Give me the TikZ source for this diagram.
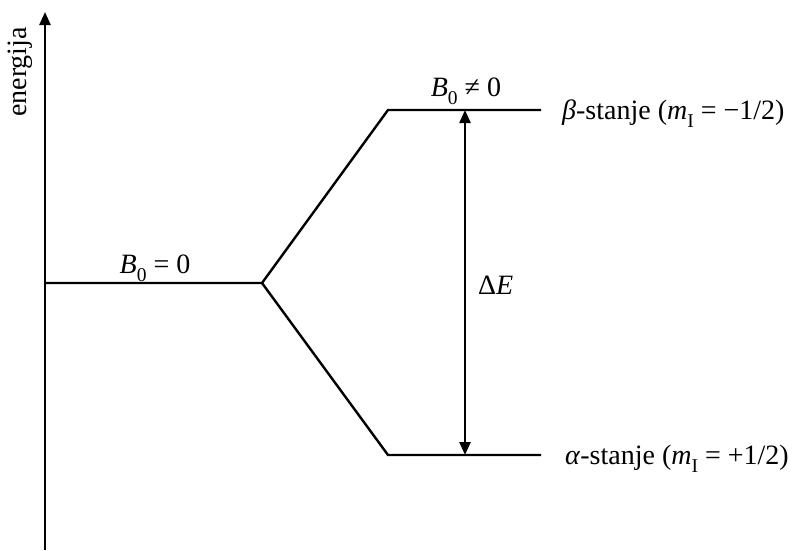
\documentclass[tikz,border=0pt]{standalone}
\usepackage{fontspec}
\setmainfont{Liberation Serif}
\usetikzlibrary{arrows.meta}
\newcommand{\lowsub}[1]{\raisebox{-0.3em}{\fontsize{19.5}{19.5}\selectfont #1}}
\begin{document}
\begin{tikzpicture}[x=1pt,y=-1pt,
  lvl/.style={line width=2.4pt},
  lbl/.style={font=\fontsize{28}{30}\selectfont, inner sep=0pt},
  tip/.style={-{Triangle[length=13pt,width=11pt]}}]
\useasboundingbox (0,0) rectangle (793,550);
\coordinate (axb) at (45,550);
\coordinate (axt) at (45,12);
\draw[lvl,tip] (axb) -- (axt);
\node[lbl,rotate=90,anchor=center] (en) at (20,72) {energija};
\coordinate (m0) at (45,283);
\coordinate (m1) at (262,283);
\coordinate (u0) at (388,110);
\coordinate (u1) at (541,110);
\coordinate (d0) at (388,455);
\coordinate (d1) at (541,455);
\draw[lvl,line join=miter] (m0) -- (m1) -- (u0) -- (u1);
\draw[lvl] (m1) -- (d0) -- (d1);
\coordinate (at) at (465,110);
\coordinate (ab) at (465,455);
\draw[lvl,{Triangle[length=13pt,width=11pt]}-{Triangle[length=13pt,width=11pt]}] (at) -- (ab);
\node[lbl,anchor=base] (b0) at (155,273) {\textit{B}\lowsub{0} = 0};
\node[lbl,anchor=base] (b1) at (466,96) {\textit{B}\lowsub{0} ≠ 0};
\node[lbl,anchor=base west] (beta) at (562,119) {\textit{β}-stanje (\textit{m}\lowsub{I} = −1/2)};
\node[lbl,anchor=base west] (alpha) at (565,464) {\textit{α}-stanje (\textit{m}\lowsub{I} = +1/2)};
\node[lbl,anchor=base west] (de) at (478,294) {Δ\textit{E}};
\end{tikzpicture}
\end{document}
